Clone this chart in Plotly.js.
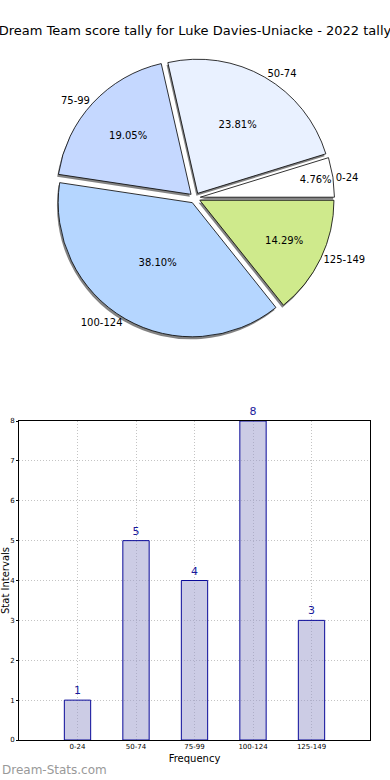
<!DOCTYPE html>
<html>
<head>
<meta charset="utf-8">
<script src="https://cdn.plot.ly/plotly-3.0.1.min.js"></script>
<style>html,body{margin:0;padding:0;background:#fff;}#chart{width:390px;height:780px;}</style>
</head>
<body>
<div id="chart"></div>
<script>
const categories = ["0-24", "50-74", "75-99", "100-124", "125-149"];
const counts = [1, 5, 4, 8, 3];
const pieColors = ["#ffffff", "#e9f1ff", "#c5d8ff", "#b5d6ff", "#cfea8c"];
const yTicks = [0, 1, 2, 3, 4, 5, 6, 7, 8];
const titleText = "Dream Team score tally for Luke Davies-Uniacke - 2022 tally";
const watermark = "Dream-Stats.com";

const W = 390, H = 780;
const pull = 0.04;
const pieDomY = [1 - 337.5 / H, 1 - 58.5 / H];
const shadowDx = 2.5 / W, shadowDy = 2.5 / H;
const font = "DejaVu Sans, sans-serif";
const total = counts.reduce((a, b) => a + b, 0);
// counter-clockwise from 3 o'clock: first slice must end at 360*first/total above horizontal
const rot = 90 - 360 * counts[0] / total;

const common = {
  type: "pie", labels: categories, values: counts, sort: false,
  direction: "counterclockwise", rotation: rot, pull: pull, showlegend: false
};
const shadow = Object.assign({}, common, {
  marker: {colors: categories.map(() => "rgba(90,90,90,0.75)"), line: {width: 0}},
  textinfo: "none", hoverinfo: "skip",
  domain: {x: [0 - shadowDx, 1 - shadowDx], y: [pieDomY[0] - shadowDy, pieDomY[1] - shadowDy]}
});
const pie = Object.assign({}, common, {
  marker: {colors: pieColors, line: {color: "#000", width: 0.8}},
  texttemplate: "%{percent:.2%}", textposition: "inside", insidetextorientation: "horizontal",
  textfont: {family: font, size: 10, color: "#000"},
  domain: {x: [0, 1], y: pieDomY}
});
const pieLabels = Object.assign({}, common, {
  marker: {colors: categories.map(() => "rgba(0,0,0,0)"), line: {width: 0}},
  textinfo: "label", textposition: "outside",
  outsidetextfont: {family: font, size: 10, color: "#000"},
  hoverinfo: "skip",
  domain: {x: [0, 1], y: pieDomY}
});
const bars = {
  type: "bar", x: categories, y: counts, width: 0.45,
  marker: {color: "rgba(153,153,204,0.5)", line: {color: "#0a0a99", width: 1}},
  text: counts.map(String), textposition: "outside", cliponaxis: false,
  textfont: {family: font, size: 11, color: "#1a1a9c"},
  xaxis: "x", yaxis: "y", showlegend: false
};

const layout = {
  width: W, height: H,
  margin: {l: 0, r: 0, t: 0, b: 0},
  paper_bgcolor: "#fff", plot_bgcolor: "#fff",
  font: {family: font, color: "#000"},
  title: {text: titleText, x: 0.5, xanchor: "center", y: 1 - 30 / H, yanchor: "middle",
          font: {family: font, size: 13, color: "#000"}},
  xaxis: {
    domain: [19 / W, 370 / W], anchor: "y",
    type: "category", range: [-1, 5],
    showgrid: true, gridcolor: "#c4c4c4", griddash: "1px,2px", gridwidth: 1,
    showline: true, linecolor: "#000", linewidth: 1, mirror: true,
    ticks: "", tickfont: {family: font, size: 7, color: "#000"},
    title: {text: "Frequency", font: {family: font, size: 10, color: "#000"}, standoff: 4},
    automargin: false, fixedrange: true
  },
  yaxis: {
    domain: [1 - 740 / H, 1 - 421 / H], anchor: "x",
    range: [0, 8], tickvals: yTicks,
    showgrid: true, gridcolor: "#c4c4c4", griddash: "1px,2px", gridwidth: 1,
    showline: true, linecolor: "#000", linewidth: 1, mirror: true,
    ticks: "outside", ticklen: 2, tickcolor: "#000",
    tickfont: {family: font, size: 7, color: "#000"},
    title: {text: "Stat Intervals", font: {family: font, size: 10, color: "#000"}, standoff: 2},
    zeroline: false, automargin: false, fixedrange: true
  },
  annotations: [{
    text: watermark, xref: "paper", yref: "paper", x: 0, y: 1 - 770 / H,
    xanchor: "left", yanchor: "middle", showarrow: false,
    font: {family: font, size: 12, color: "#999999"}
  }]
};

Plotly.newPlot("chart", [shadow, pie, pieLabels, bars], layout, {displayModeBar: false, staticPlot: true});
</script>
</body>
</html>
